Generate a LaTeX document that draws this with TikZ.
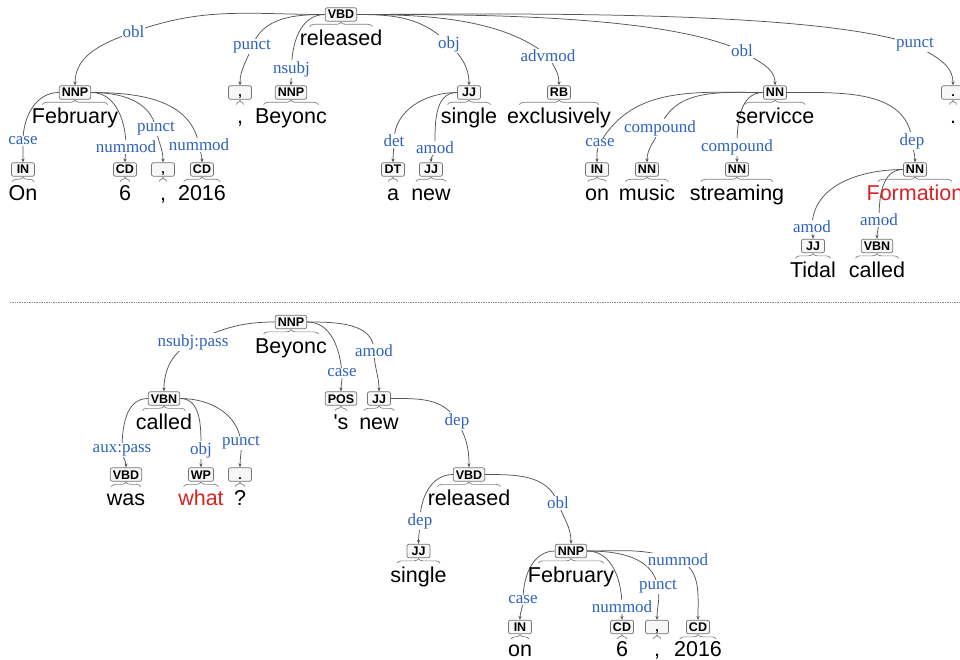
\documentclass[tikz,border=0pt]{standalone}
\usepackage{fontspec}
\setmainfont{Liberation Sans}
\newfontfamily\labfont{Liberation Serif}
\usetikzlibrary{arrows.meta,decorations.pathreplacing,calc,backgrounds}
\definecolor{labblue}{RGB}{47,98,190}
\definecolor{wred}{RGB}{215,35,35}
\definecolor{arcgray}{RGB}{85,85,85}
\tikzset{
 tag/.style={draw=black!55, line width=0.7pt, rounded corners=2pt, fill=black!3,
   font=\bfseries\fontsize{12.5}{12.5}\selectfont, minimum width=23pt, minimum height=13.5pt,
   inner xsep=2.5pt, inner ysep=1pt, text height=9pt, text depth=0pt},
 wd/.style={font=\fontsize{21.5}{21.5}\selectfont, inner sep=0pt, anchor=base, minimum width=9pt, text depth=1pt},
 brc/.style={draw=black!50, line width=0.7pt, decorate, decoration={brace, amplitude=4.5pt}},
 lab/.style={font=\labfont\fontsize{17}{17}\selectfont, text=labblue, fill=white, inner sep=0.8pt},
 dep/.style={draw=arcgray, line width=0.75pt, -{Stealth[length=4pt,width=3.2pt]}},
}
\newcommand\tok[7][31]{%
 \node[tag] (#2) at (#3,-#4) {#5};
 \node[wd,text=#7] (#2w) at (#3,-#4-#1) {#6};
 \draw[brc] let \p1=($(#2w.west)!0.12!(#2w.east)$), \p2=($(#2w.west)!0.88!(#2w.east)$), \p3=(#2.south) in (\x1,\y3-5pt) -- (\x2,\y3-5pt);
}
\newcommand\deparc[7][1]{\draw[dep] (#2) to[out=#3,in=#5,looseness=#1] (#4.center) to[out=#6,in=90] (#7.north);}
\begin{document}
\begin{tikzpicture}[x=1pt,y=1pt]
\useasboundingbox (0,0) rectangle (960,-660);
\clip (0,0) rectangle (960,-660);
% ---------- top tree: tokens ----------
\tok{r}{341}{14.5}{VBD}{released}{black}
\tok{feb}{75}{92.5}{NNP}{February}{black}
\tok{cm2}{240}{92.5}{,}{,}{black}
\tok{bey}{291}{92.5}{NNP}{Beyonc}{black}
\tok{sgl}{469}{92.5}{JJ}{single}{black}
\tok{excl}{559}{92.5}{RB}{exclusively}{black}
\tok{serv}{775}{92.5}{NN}{servicce}{black}
\tok{dot}{953}{92.5}{.}{.}{black}
\tok{on}{23}{169.5}{IN}{On}{black}
\tok{six}{125}{169.5}{CD}{6}{black}
\tok{cm1}{163}{169.5}{,}{,}{black}
\tok{y16}{202}{169.5}{CD}{2016}{black}
\tok{a}{393}{169.5}{DT}{a}{black}
\tok{new}{431}{169.5}{JJ}{new}{black}
\tok{onn}{597}{169.5}{IN}{on}{black}
\tok{mus}{647}{169.5}{NN}{music}{black}
\tok{strm}{737}{169.5}{NN}{streaming}{black}
\tok{form}{915}{169.5}{NN}{Formation}{wred}
\tok{tid}{813}{246}{JJ}{Tidal}{black}
\tok{cal}{877}{246}{VBN}{called}{black}
% ---------- top tree: labels ----------
\node[lab] (L1) at (133.5,-32) {obl};
\node[lab] (L2) at (252,-46.5) {punct};
\node[lab] (L3) at (291.5,-69) {nsubj};
\node[lab] (L4) at (449,-44) {obj};
\node[lab] (L5) at (548,-56) {advmod};
\node[lab] (L6) at (742,-51) {obl};
\node[lab] (L7) at (915,-45) {punct};
\node[lab] (L8) at (23,-141) {case};
\node[lab] (L9) at (126,-147) {nummod};
\node[lab] (L10) at (156,-129) {punct};
\node[lab] (L11) at (199,-145) {nummod};
\node[lab] (L12) at (394,-141) {det};
\node[lab] (L13) at (435,-148) {amod};
\node[lab] (L14) at (600,-143) {case};
\node[lab] (L15) at (660,-128) {compound};
\node[lab] (L16) at (737,-147) {compound};
\node[lab] (L17) at (912,-141) {dep};
\node[lab] (L18) at (812,-227) {amod};
\node[lab] (L19) at (879,-220) {amod};
% ---------- separator ----------
\draw[black!45, line width=0.8pt, dash pattern=on 0.8pt off 0.9pt] (10,-302) -- (960,-302);
% ---------- bottom tree: tokens ----------
\tok{B}{291}{322}{NNP}{Beyonc}{black}
\tok{Bcal}{164}{398.5}{VBN}{called}{black}
\tok{Bs}{341}{398.5}{POS}{\textquotesingle s}{black}
\tok{Bnew}{379}{398.5}{JJ}{new}{black}
\tok{Bwas}{126}{474.5}{VBD}{was}{black}
\tok{Bwhat}{201}{474.5}{WP}{what}{wred}
\tok{Bq}{240}{474.5}{.}{?}{black}
\tok{Brel}{469}{474.5}{VBD}{released}{black}
\tok{Bsgl}{418.5}{551}{JJ}{single}{black}
\tok{Bfeb}{571}{551}{NNP}{February}{black}
\tok[29.5]{Bon}{520}{627}{IN}{on}{black}
\tok[29.5]{Bsix}{622}{627}{CD}{6}{black}
\tok[29.5]{Bcm}{657}{627}{,}{,}{black}
\tok[29.5]{By16}{698}{627}{CD}{2016}{black}
% ---------- bottom tree: labels ----------
\node[lab] (M1) at (193,-342) {nsubj:pass};
\node[lab] (M2) at (342,-373) {case};
\node[lab] (M3) at (374,-351) {amod};
\node[lab] (M4) at (122,-450) {aux:pass};
\node[lab] (M5) at (201,-450) {obj};
\node[lab] (M6) at (241,-443) {punct};
\node[lab] (M7) at (457,-421) {dep};
\node[lab] (M8) at (420,-521) {dep};
\node[lab] (M9) at (558,-503) {obl};
\node[lab] (M10) at (523,-600) {case};
\node[lab] (M11) at (622,-607) {nummod};
\node[lab] (M12) at (658,-587) {punct};
\node[lab] (M13) at (678,-560) {nummod};
% ---------- arcs ----------
\begin{pgfonlayer}{background}
\fill[white] (0,0) rectangle (960,-660);
\deparc{r.west}{180}{L1}{20}{200}{feb}
\deparc{r.west}{180}{L2}{70}{250}{cm2}
\deparc{r.west}{180}{L3}{90}{270}{bey}
\deparc{r.east}{0}{L4}{135}{-45}{sgl}
\deparc[0.8]{r.east}{0}{L5}{140}{-60}{excl}
\deparc[0.6]{r.east}{0}{L6}{155}{-35}{serv}
\deparc[0.5]{r.east}{0}{L7}{160}{-30}{dot}
\deparc{feb.west}{180}{L8}{90}{-90}{on}
\deparc{feb.east}{0}{L9}{90}{-90}{six}
\deparc{feb.east}{0}{L10}{100}{-80}{cm1}
\deparc{feb.east}{0}{L11}{100}{-80}{y16}
\deparc{sgl.west}{180}{L12}{90}{-90}{a}
\deparc{sgl.west}{180}{L13}{90}{-90}{new}
\deparc{serv.west}{180}{L14}{60}{240}{onn}
\deparc{serv.west}{180}{L15}{70}{250}{mus}
\deparc{serv.west}{180}{L16}{90}{-90}{strm}
\deparc{serv.east}{0}{L17}{95}{-85}{form}
\deparc{form.west}{180}{L18}{90}{-90}{tid}
\deparc{form.west}{180}{L19}{90}{-90}{cal}
\deparc{B.west}{180}{M1}{25}{205}{Bcal}
\deparc{B.east}{0}{M2}{95}{-85}{Bs}
\deparc{B.east}{0}{M3}{90}{-90}{Bnew}
\deparc{Bcal.west}{180}{M4}{90}{-90}{Bwas}
\deparc{Bcal.east}{0}{M5}{90}{-90}{Bwhat}
\deparc{Bcal.east}{0}{M6}{95}{-85}{Bq}
\deparc{Bnew.east}{0}{M7}{120}{-60}{Brel}
\deparc{Brel.west}{180}{M8}{90}{-90}{Bsgl}
\deparc{Brel.east}{0}{M9}{110}{-70}{Bfeb}
\deparc{Bfeb.west}{180}{M10}{90}{-90}{Bon}
\deparc{Bfeb.east}{0}{M11}{90}{-90}{Bsix}
\deparc{Bfeb.east}{0}{M12}{100}{-80}{Bcm}
\deparc{Bfeb.east}{0}{M13}{160}{-20}{By16}
\end{pgfonlayer}
\end{tikzpicture}
\end{document}
